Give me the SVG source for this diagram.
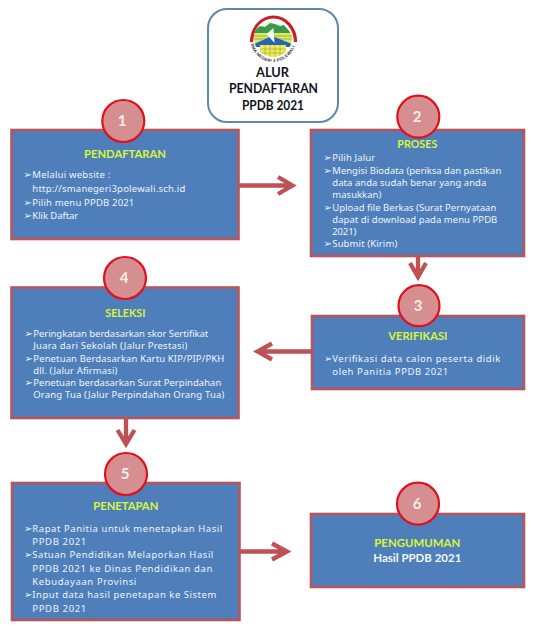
<svg xmlns="http://www.w3.org/2000/svg" width="544" height="628" viewBox="0 0 544 628">
<style>
.box{fill:#4f7fbb;stroke:#b9555a;stroke-width:2.6}
.c{fill:#d68f90;stroke:#e0101e;stroke-width:2.2}
.n{font:bold 15px Lato,"Liberation Sans",sans-serif;fill:#f6ecec;text-anchor:middle}
.t{font:bold 12px Lato,"Liberation Sans",sans-serif;fill:#d8f53a}
.b{font:9.500px "Noto Sans","Liberation Sans",sans-serif;fill:#eef3fa}
.m{font:10px "DejaVu Sans",sans-serif;fill:#eef3fa}
.h{font:bold 13.500px Lato,"Liberation Sans",sans-serif;fill:#10141c}
.a{fill:none;stroke:#bf5054;stroke-width:4.300}
.l{font:bold 4.200px "Liberation Sans",sans-serif;fill:#1c2430;letter-spacing:.3px}
</style>
<defs>
<path id="ring" d="M250 38A23 24 0 0 0 296 38"/>
<clipPath id="inner"><circle cx="273" cy="38" r="19"/></clipPath>
</defs>
<rect width="544" height="628" fill="#fff"/>
<g id="connectors">
<path class="a" d="M239 185.500H292M278 177l14.500 8.500L278 194"/>
<path class="a" d="M418 256V277M410 263l8 14 8-14"/>
<path class="a" d="M311 351.500H258M272 343.500l-14.500 8L272 359.500"/>
<path class="a" d="M126 418V444M117.500 430l8.500 14 8.500-14"/>
<path class="a" d="M240 551.500H287M272 543.500l15 8-15 8"/>
</g>
<g id="title">
<rect x="208" y="9" width="130" height="113" rx="19" fill="#fff" stroke="#5f87b0" stroke-width="2"/>
<g id="logo">
<path d="M251.500 42A22 25 0 0 1 295.500 42" fill="none" stroke="#c8202a" stroke-width="3.200"/>
<g clip-path="url(#inner)">
<rect x="253" y="18" width="40" height="40" fill="#fdfdf4"/>
<path d="M254 31l6-5 5 1 5-4 5 1 5 2 4-1 6 7v4H254Z" fill="#3a9a4a"/>
<path d="M253 33h40v11h-40Z" fill="#e6e65c"/>
<path d="M253 36h40M253 39h40" stroke="#7fbf60" stroke-width="1"/>
<path d="M254 44l18-8 20 8v3h-38Z" fill="#2a62b8"/>
<path d="M260 45h26v14h-26Z" fill="#ecec5a"/>
<path d="M260 49h26M260 53h26M265 45v14M270 45v14M275 45v14M280 45v14" stroke="#8a9a30" stroke-width=".5"/>
</g>
<path d="M266.500 34l7-6 1 15Z" fill="#f6f8fa"/>
<text class="l"><textPath href="#ring" startOffset="6">SMA NEGERI 3 POLEWALI</textPath></text>
</g>
<text class="h" x="256" y="77" textLength="33" lengthAdjust="spacingAndGlyphs">ALUR</text>
<text class="h" x="229" y="93" textLength="89" lengthAdjust="spacingAndGlyphs">PENDAFTARAN</text>
<text class="h" x="242" y="110" textLength="62" lengthAdjust="spacingAndGlyphs">PPDB 2021</text>
</g>
<g id="node1">
<rect class="box" x="11.500" y="130" width="227" height="109"/>
<circle class="c" cx="123.300" cy="121" r="21"/>
<text class="n" x="122" y="126">1</text>
<text class="t" x="84" y="157.700" textLength="82" lengthAdjust="spacingAndGlyphs">PENDAFTARAN</text>
<text class="m" x="23.500" y="177.700">➢</text>
<text class="b" x="32.300" y="177.700" textLength="78">Melalui website :</text>
<text class="b" x="32.300" y="191.700" textLength="153">http://smanegeri3polewali.sch.id</text>
<text class="m" x="23.500" y="205.700">➢</text>
<text class="b" x="32.300" y="205.700" textLength="102">Pilih menu PPDB 2021</text>
<text class="m" x="23.500" y="219">➢</text>
<text class="b" x="32.300" y="219" textLength="46">Klik Daftar</text>
</g>
<g id="node2">
<rect class="box" x="311" y="130" width="213" height="126"/>
<circle class="c" cx="418.300" cy="116.700" r="21"/>
<text class="n" x="417" y="122">2</text>
<text class="t" x="397.300" y="147.700" textLength="40" lengthAdjust="spacingAndGlyphs">PROSES</text>
<text class="m" x="323.500" y="161">➢</text>
<text class="b" x="332.300" y="161" textLength="43">Pilih Jalur</text>
<text class="m" x="323.500" y="174">➢</text>
<text class="b" x="332.300" y="174" textLength="169">Mengisi Biodata (periksa dan pastikan</text>
<text class="b" x="332.300" y="186" textLength="154">data anda sudah benar yang anda</text>
<text class="b" x="332.300" y="197.700" textLength="49">masukkan)</text>
<text class="m" x="323.500" y="211">➢</text>
<text class="b" x="332.300" y="211" textLength="164">Upload file Berkas (Surat Pernyataan</text>
<text class="b" x="332.300" y="223" textLength="165">dapat di download pada menu PPDB</text>
<text class="b" x="332.300" y="235" textLength="24">2021)</text>
<text class="m" x="323.500" y="246.700">➢</text>
<text class="b" x="332.300" y="246.700" textLength="65">Submit (Kirim)</text>
</g>
<g id="node3">
<rect class="box" x="312" y="316" width="212" height="73"/>
<circle class="c" cx="419" cy="305.700" r="20.500"/>
<text class="n" x="418" y="311">3</text>
<text class="t" x="388.300" y="340" textLength="59" lengthAdjust="spacingAndGlyphs">VERIFIKASI</text>
<text class="m" x="324" y="361.700">➢</text>
<text class="b" x="332.300" y="361.700" textLength="168">Verifikasi data calon peserta didik</text>
<text class="b" x="332.300" y="375" textLength="116">oleh Panitia PPDB 2021</text>
</g>
<g id="node4">
<rect class="box" x="11.500" y="287.500" width="227" height="130.500"/>
<circle class="c" cx="125" cy="278" r="21"/>
<text class="n" x="124" y="283">4</text>
<text class="t" x="105.300" y="316.700" textLength="40" lengthAdjust="spacingAndGlyphs">SELEKSI</text>
<text class="m" x="24.500" y="336.700">➢</text>
<text class="b" x="33.300" y="336.700" textLength="175">Peringkatan berdasarkan skor Sertifikat</text>
<text class="b" x="33.300" y="348.700" textLength="154">Juara dari Sekolah (Jalur Prestasi)</text>
<text class="m" x="24.500" y="361.700">➢</text>
<text class="b" x="33.300" y="361.700" textLength="191">Penetuan Berdasarkan Kartu KIP/PIP/PKH</text>
<text class="b" x="33.300" y="373.700" textLength="84">dll. (Jalur Afirmasi)</text>
<text class="m" x="24.500" y="386">➢</text>
<text class="b" x="33.300" y="386" textLength="188">Penetuan berdasarkan Surat Perpindahan</text>
<text class="b" x="33.300" y="398.300" textLength="191">Orang Tua (Jalur Perpindahan Orang Tua)</text>
</g>
<g id="node5">
<rect class="box" x="12" y="483" width="227.500" height="137"/>
<circle class="c" cx="126" cy="474" r="21"/>
<text class="n" x="125" y="479">5</text>
<text class="t" x="93.300" y="510" textLength="65" lengthAdjust="spacingAndGlyphs">PENETAPAN</text>
<text class="m" x="24" y="531.700">➢</text>
<text class="b" x="32.300" y="531.700" textLength="190">Rapat Panitia untuk menetapkan Hasil</text>
<text class="b" x="32.300" y="545" textLength="54">PPDB 2021</text>
<text class="m" x="24" y="558.300">➢</text>
<text class="b" x="32.300" y="558.300" textLength="181">Satuan Pendidikan Melaporkan Hasil</text>
<text class="b" x="32.300" y="571.700" textLength="180">PPDB 2021 ke Dinas Pendidikan dan</text>
<text class="b" x="32.300" y="585" textLength="104">Kebudayaan Provinsi</text>
<text class="m" x="24" y="598.300">➢</text>
<text class="b" x="32.300" y="598.300" textLength="184">Input data hasil penetapan ke Sistem</text>
<text class="b" x="32.300" y="611.700" textLength="54">PPDB 2021</text>
</g>
<g id="node6">
<rect class="box" x="311" y="514" width="213" height="73"/>
<circle class="c" cx="418" cy="503.700" r="21"/>
<text class="n" x="417" y="509">6</text>
<text class="t" x="374.300" y="546.700" textLength="86" lengthAdjust="spacingAndGlyphs">PENGUMUMAN</text>
<text class="t" x="373.300" y="561.700" textLength="88" lengthAdjust="spacingAndGlyphs" style="fill:#f2f6fb">Hasil PPDB 2021</text>
</g>
</svg>
